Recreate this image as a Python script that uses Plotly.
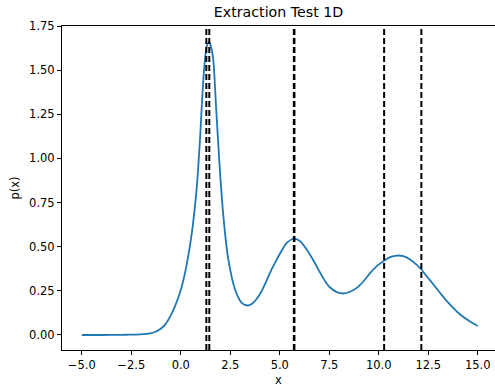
import plotly.graph_objects as go

# Estimated density p(x) sampled along x
x_vals = [-5.0, -4.0, -3.0, -2.56, -2.06, -1.55, -1.30, -1.05, -0.79, -0.54, -0.29,
          -0.035, 0.13, 0.30, 0.56, 0.81, 0.97, 1.14, 1.31, 1.44, 1.62, 1.78, 1.95,
          2.15, 2.40, 2.74, 3.08, 3.37, 3.60, 3.84, 4.10, 4.34, 4.60, 4.85, 5.02,
          5.35, 5.72, 6.03, 6.36, 6.70, 7.04, 7.29, 7.54, 7.88, 8.21, 8.55, 8.89,
          9.22, 9.56, 9.90, 10.27, 10.57, 10.94, 11.24, 11.58, 11.92, 12.15, 12.42,
          12.76, 13.10, 13.43, 13.77, 14.11, 14.61, 15.0]
p_vals = [0.0, 0.0, 0.001, 0.002, 0.004, 0.009, 0.017, 0.032, 0.059, 0.104, 0.164,
          0.242, 0.31, 0.40, 0.58, 0.84, 1.11, 1.447, 1.635, 1.658, 1.579, 1.296, 0.975,
          0.673, 0.428, 0.258, 0.182, 0.167, 0.177, 0.205, 0.252, 0.31, 0.374, 0.428, 0.463,
          0.522, 0.546, 0.531, 0.484, 0.422, 0.352, 0.305, 0.269, 0.243, 0.235, 0.245, 0.267,
          0.303, 0.350, 0.390, 0.420, 0.441, 0.450, 0.446, 0.428, 0.397, 0.371, 0.333,
          0.286, 0.238, 0.193, 0.152, 0.116, 0.076, 0.051]

# Extracted locations marked with vertical dashed lines
marker_x = [1.29, 1.44, 5.71, 5.74, 10.27, 12.15]

x_ticks = [-5.0, -2.5, 0.0, 2.5, 5.0, 7.5, 10.0, 12.5, 15.0]
y_ticks = [0.0, 0.25, 0.5, 0.75, 1.0, 1.25, 1.5, 1.75]

FONT = "DejaVu Sans"
TICK_SIZE = 11.5

fig = go.Figure()
fig.add_trace(go.Scatter(
    x=x_vals, y=p_vals, mode="lines",
    line=dict(color="#1f77b4", width=1.8, shape="spline", smoothing=0.7),
    showlegend=False, hoverinfo="skip",
))

for xv in marker_x:
    fig.add_shape(type="line", xref="x", yref="paper", x0=xv, x1=xv, y0=0, y1=1,
                  line=dict(color="black", width=2, dash="6px,3px"))

axis_common = dict(
    showgrid=False, zeroline=False, showline=True, linecolor="black", linewidth=1,
    ticks="outside", ticklen=4, tickwidth=1, tickcolor="black",
    tickfont=dict(family=FONT, size=TICK_SIZE, color="black"),
)

fig.update_xaxes(
    range=[-6, 15.87], tickvals=x_ticks, tickformat=".1f", mirror=True,
    title=dict(text="x", font=dict(family=FONT, size=TICK_SIZE, color="black"), standoff=5),
    **axis_common,
)
fig.update_yaxes(
    range=[-0.085, 1.75], tickvals=y_ticks, tickformat=".2f",
    title=dict(text="p(x)", font=dict(family=FONT, size=TICK_SIZE, color="black"), standoff=7),
    **axis_common,
)

fig.update_layout(
    width=495, height=387,
    margin=dict(l=62, r=0, t=26, b=37),
    paper_bgcolor="white", plot_bgcolor="white",
    title=dict(text="Extraction Test 1D", x=0.5, xref="paper", xanchor="center",
               y=1 - 12.5 / 387, yref="container", yanchor="middle",
               font=dict(family=FONT, size=14.2, color="black")),
    font=dict(family=FONT, color="black"),
)

fig.write_html("out.html", config={"displayModeBar": False})
